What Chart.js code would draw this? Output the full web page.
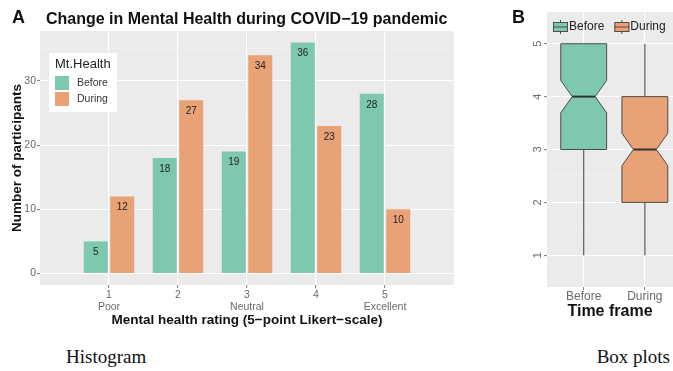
<!DOCTYPE html>
<html>
<head>
<meta charset="utf-8">
<script src="https://cdn.jsdelivr.net/npm/chart.js@4.4.0/dist/chart.umd.min.js"></script>
<style>
  html, body { margin: 0; padding: 0; background: #fff; overflow: hidden; }
  #wrap { position: relative; width: 673px; height: 371px; }
  #hist { position: absolute; left: 0; top: 0; }
  #box { position: absolute; left: 470px; top: 0; }
  .caption {
    position: absolute; top: 346px; line-height: 22px;
    font-family: "Liberation Serif", "DejaVu Serif", serif; font-size: 19px; color: #111;
  }
</style>
</head>
<body>
<div id="wrap">
  <canvas id="hist" width="460" height="335"></canvas>
  <canvas id="box" width="203" height="335"></canvas>
  <div class="caption" style="left:66px">Histogram</div>
  <div class="caption" style="right:3px">Box plots</div>
</div>
<script>
// histogram data
const ratings = [1, 2, 3, 4, 5];
const ratingNames = ['Poor', '', 'Neutral', '', 'Excellent'];
const beforeCounts = [5, 18, 19, 36, 28];
const duringCounts = [12, 27, 34, 23, 10];
const countTicks = [0, 10, 20, 30];
const countMinorTicks = [5, 15, 25, 35];

// box plot data
const timeFrames = ['Before', 'During'];
const boxLow = [1, 1];
const boxQ1 = [3, 2];
const boxMedian = [4, 3];
const boxQ3 = [5, 4];
const boxHigh = [5, 5];
const ratingTicks = [1, 2, 3, 4, 5];
const ratingMinorTicks = [1.5, 2.5, 3.5, 4.5];

const GREEN = '#7ec8b0';
const ORANGE = '#e9a276';
const PANEL = '#ebebeb';
const TICK_TEXT = '#6b6b6b';
const FONT = '"Liberation Sans", Arial, Helvetica, sans-serif';

Chart.defaults.font.family = FONT;
Chart.defaults.color = TICK_TEXT;

const panelBg = {
    id: 'panelBg',
    beforeDraw(chart) {
        const { ctx, chartArea: a } = chart;
        ctx.save();
        ctx.fillStyle = PANEL;
        ctx.fillRect(a.left, a.top, a.right - a.left, a.bottom - a.top);
        ctx.restore();
    },
};

function majorMinor(majors, major, minor) {
    return (c) => (c.tick && majors.includes(c.tick.value) ? major : minor);
}

// ---------- A: histogram ----------
const barLabels = {
    id: 'barLabels',
    afterDatasetsDraw(chart) {
        const { ctx } = chart;
        ctx.save();
        ctx.font = '10px ' + FONT;
        ctx.fillStyle = '#222';
        ctx.textAlign = 'center';
        ctx.textBaseline = 'middle';
        chart.data.datasets.forEach((ds, i) => {
            chart.getDatasetMeta(i).data.forEach((bar, j) => {
                ctx.fillText(String(ds.data[j].y), bar.x, bar.y + 11);
            });
        });
        ctx.restore();
    },
};

const histDecor = {
    id: 'histDecor',
    afterDraw(chart) {
        const { ctx, chartArea: a } = chart;
        ctx.save();
        ctx.textBaseline = 'middle';
        ctx.fillStyle = '#111';
        ctx.font = 'bold 18px ' + FONT;
        ctx.fillText('A', 12, 18);
        ctx.font = 'bold 16px ' + FONT;
        ctx.fillText('Change in Mental Health during COVID\u221219 pandemic', 46, 20);

        // legend
        const lx = a.left + 9, ly = a.top + 22;
        ctx.fillStyle = '#fff';
        ctx.fillRect(lx, ly, 68, 59);
        ctx.fillStyle = '#222';
        ctx.font = '13px ' + FONT;
        ctx.fillText('Mt.Health', lx + 6, ly + 11);
        ctx.font = '10.5px ' + FONT;
        chart.data.datasets.forEach((ds, i) => {
            const ky = ly + 23 + i * 16;
            ctx.fillStyle = ds.backgroundColor;
            ctx.fillRect(lx + 6, ky, 14, 14);
            ctx.fillStyle = '#333';
            ctx.fillText(ds.label, lx + 28, ky + 7);
        });
        ctx.restore();
    },
};

new Chart(document.getElementById('hist'), {
    type: 'bar',
    data: {
        datasets: [
            { label: 'Before', data: ratings.map((r, i) => ({ x: r, y: beforeCounts[i] })), backgroundColor: GREEN },
            { label: 'During', data: ratings.map((r, i) => ({ x: r, y: duringCounts[i] })), backgroundColor: ORANGE },
        ],
    },
    options: {
        responsive: false,
        animation: false,
        devicePixelRatio: 1,
        categoryPercentage: 0.768,
        barPercentage: 0.906,
        layout: { padding: { top: 31, right: 6, left: 0, bottom: 0 } },
        plugins: { legend: { display: false }, tooltip: { enabled: false } },
        scales: {
            x: {
                type: 'linear',
                offset: false,
                min: 0,
                max: 6,
                afterBuildTicks: (axis) => { axis.ticks = ratings.map((v) => ({ value: v })); },
                afterFit: (axis) => { axis.height = 50; },
                border: { display: false },
                grid: { offset: false, color: '#fff', lineWidth: 1.1, tickColor: '#888', tickLength: 3 },
                ticks: {
                    padding: 1,
                    maxRotation: 0,
                    font: { size: 10.5, lineHeight: 1.15 },
                    callback: (v) => {
                        const name = ratingNames[ratings.indexOf(v)];
                        return name ? [String(v), name] : String(v);
                    },
                },
                title: {
                    display: true,
                    text: 'Mental health rating (5\u2212point Likert\u2212scale)',
                    color: '#111',
                    font: { size: 13.5, weight: 'bold' },
                    padding: { top: 0, bottom: 6.9 },
                },
            },
            y: {
                min: -1.8,
                max: 37.8,
                afterBuildTicks: (axis) => {
                    axis.ticks = [...countTicks, ...countMinorTicks].sort((a, b) => a - b).map((v) => ({ value: v }));
                },
                afterFit: (axis) => { axis.width = 40; },
                border: { display: false },
                grid: {
                    color: majorMinor(countTicks, '#fff', '#f4f4f4'),
                    lineWidth: majorMinor(countTicks, 1.1, 0.6),
                    tickColor: majorMinor(countTicks, '#888', 'rgba(0,0,0,0)'),
                    tickLength: 3,
                },
                ticks: {
                    padding: 1,
                    font: { size: 10.5 },
                    callback: (v) => (countTicks.includes(v) ? String(v) : ''),
                },
                title: {
                    display: true,
                    text: 'Number of participants',
                    color: '#111',
                    font: { size: 13.5, weight: 'bold' },
                    padding: { top: 9, bottom: 0 },
                },
            },
        },
    },
    plugins: [panelBg, barLabels, histDecor],
});

// ---------- B: notched box plots ----------
const groupSizes = [beforeCounts, duringCounts].map((c) => c.reduce((s, v) => s + v, 0));
const boxFills = [GREEN, ORANGE];
const BOX_WIDTH = 0.75;

const boxPlot = {
    id: 'boxPlot',
    afterDatasetsDraw(chart) {
        const { ctx, scales: { x, y } } = chart;
        ctx.save();
        timeFrames.forEach((t, i) => {
            const cx = x.getPixelForValue(i + 1);
            const half = x.getPixelForValue(i + 1 + BOX_WIDTH / 2) - cx;
            const inset = half * 0.5;
            const notch = (1.58 * (boxQ3[i] - boxQ1[i])) / Math.sqrt(groupSizes[i]);
            const yLow = y.getPixelForValue(boxLow[i]);
            const yQ1 = y.getPixelForValue(boxQ1[i]);
            const yMed = y.getPixelForValue(boxMedian[i]);
            const yQ3 = y.getPixelForValue(boxQ3[i]);
            const yHigh = y.getPixelForValue(boxHigh[i]);
            const yNU = y.getPixelForValue(boxMedian[i] + notch);
            const yNL = y.getPixelForValue(boxMedian[i] - notch);

            // whiskers
            ctx.strokeStyle = '#5a5a5a';
            ctx.lineWidth = 1.2;
            ctx.beginPath();
            ctx.moveTo(cx, yHigh); ctx.lineTo(cx, yQ3);
            ctx.moveTo(cx, yQ1); ctx.lineTo(cx, yLow);
            ctx.stroke();

            // notched box
            const l = cx - half, r = cx + half;
            ctx.beginPath();
            ctx.moveTo(l, yQ3);
            ctx.lineTo(r, yQ3);
            ctx.lineTo(r, yNU);
            ctx.lineTo(r - inset, yMed);
            ctx.lineTo(r, yNL);
            ctx.lineTo(r, yQ1);
            ctx.lineTo(l, yQ1);
            ctx.lineTo(l, yNL);
            ctx.lineTo(l + inset, yMed);
            ctx.lineTo(l, yNU);
            ctx.closePath();
            ctx.fillStyle = boxFills[i];
            ctx.fill();
            ctx.strokeStyle = '#4d4d4d';
            ctx.lineWidth = 1;
            ctx.stroke();

            // median
            ctx.beginPath();
            ctx.moveTo(l + inset, yMed);
            ctx.lineTo(r - inset, yMed);
            ctx.lineWidth = 2;
            ctx.strokeStyle = '#333';
            ctx.stroke();
        });
        ctx.restore();
    },
};

const boxDecor = {
    id: 'boxDecor',
    afterDraw(chart) {
        const { ctx, chartArea: a } = chart;
        ctx.save();
        ctx.textBaseline = 'middle';
        ctx.fillStyle = '#111';
        ctx.font = 'bold 18px ' + FONT;
        ctx.fillText('B', 42, 18);

        // legend
        ctx.font = '12px ' + FONT;
        let kx = a.left + 6;
        const ky = 22;
        chart.data.datasets.forEach((ds) => {
            const mid = kx + 7.5;
            ctx.strokeStyle = '#4d4d4d';
            ctx.lineWidth = 1;
            ctx.beginPath();
            ctx.moveTo(mid, ky - 2); ctx.lineTo(mid, ky + 12);
            ctx.stroke();
            ctx.fillStyle = ds.backgroundColor;
            ctx.fillRect(kx, ky, 15, 10);
            ctx.strokeRect(kx + 0.5, ky + 0.5, 14, 9);
            ctx.beginPath();
            ctx.moveTo(kx, ky + 5); ctx.lineTo(kx + 15, ky + 5);
            ctx.stroke();
            ctx.fillStyle = '#222';
            ctx.fillText(ds.label, kx + 16, ky + 5);
            kx += 16 + ctx.measureText(ds.label).width + 10;
        });
        ctx.restore();
    },
};

new Chart(document.getElementById('box'), {
    type: 'scatter',
    data: {
        datasets: timeFrames.map((t, i) => ({ label: t, data: [], backgroundColor: boxFills[i] })),
    },
    options: {
        responsive: false,
        animation: false,
        devicePixelRatio: 1,
        layout: { padding: { top: 12, right: 0, left: 0, bottom: 0 } },
        plugins: { legend: { display: false }, tooltip: { enabled: false } },
        scales: {
            x: {
                type: 'linear',
                min: 0.4,
                max: 2.46,
                afterBuildTicks: (axis) => { axis.ticks = timeFrames.map((t, i) => ({ value: i + 1 })); },
                afterFit: (axis) => { axis.height = 48; },
                border: { display: false },
                grid: { color: '#fff', lineWidth: 1.1, tickColor: '#888', tickLength: 3 },
                ticks: {
                    padding: 0,
                    maxRotation: 0,
                    font: { size: 12, lineHeight: 1.1 },
                    callback: (v) => timeFrames[v - 1],
                },
                title: {
                    display: true,
                    text: 'Time frame',
                    color: '#111',
                    font: { size: 16, weight: 'bold' },
                    padding: { top: 0, bottom: 13.4 },
                },
            },
            y: {
                min: 0.4,
                max: 5.6,
                afterBuildTicks: (axis) => {
                    axis.ticks = [...ratingTicks, ...ratingMinorTicks].sort((a, b) => a - b).map((v) => ({ value: v }));
                },
                afterFit: (axis) => { axis.width = 77; },
                border: { display: false },
                grid: {
                    color: majorMinor(ratingTicks, '#fff', '#f4f4f4'),
                    lineWidth: majorMinor(ratingTicks, 1.1, 0.6),
                    tickColor: majorMinor(ratingTicks, '#888', 'rgba(0,0,0,0)'),
                    tickLength: 3,
                },
                ticks: {
                    padding: 3,
                    minRotation: 90,
                    maxRotation: 90,
                    crossAlign: 'center',
                    font: { size: 11 },
                    callback: (v) => (ratingTicks.includes(v) ? String(v) : ''),
                },
            },
        },
    },
    plugins: [panelBg, boxPlot, boxDecor],
});
</script>
</body>
</html>
